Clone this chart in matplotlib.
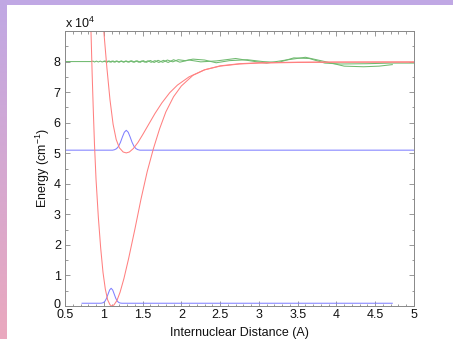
import numpy as np
import matplotlib
matplotlib.use("Agg")
import matplotlib.pyplot as plt
import matplotlib.transforms as mtransforms
from matplotlib.ticker import MultipleLocator, FuncFormatter, FixedLocator

plt.rcParams['font.family'] = ['Liberation Sans', 'DejaVu Sans']
plt.rcParams['mathtext.fontset'] = 'custom'
plt.rcParams['mathtext.rm'] = 'Liberation Sans'
plt.rcParams['mathtext.it'] = 'Liberation Sans'

# ---------------- data (r in Angstrom, E in cm^-1) ----------------
ground_r = [0.835, 0.85, 0.865, 0.88, 0.90, 0.93, 0.96, 0.99, 1.02, 1.05, 1.08, 1.10,
            1.13, 1.17, 1.21, 1.26, 1.32, 1.40, 1.48, 1.56, 1.64, 1.72, 1.80, 1.90,
            2.00, 2.15, 2.30, 2.50, 2.75, 3.00, 3.50, 4.00, 5.00]
ground_E = [90000, 76000, 64000, 53000, 41500, 29000, 19000, 11000, 5500, 2000, 400, 0,
            300, 1800, 4500, 9000, 15500, 25000, 35000, 44000, 51500, 58000, 63500, 68500,
            72000, 75500, 77300, 78500, 79200, 79500, 79700, 79800, 79800]

excited_r = [1.00, 1.04, 1.08, 1.12, 1.16, 1.20, 1.25, 1.29, 1.33, 1.38, 1.44, 1.50,
             1.58, 1.66, 1.75, 1.85, 1.95, 2.10, 2.30, 2.50, 2.75, 3.00, 3.50, 5.00]
excited_E = [90000, 78000, 67500, 59500, 54500, 51800, 50400, 50100, 50400, 51500, 53500, 56000,
             59500, 63000, 66500, 69800, 72300, 75000, 77300, 78600, 79300, 79600, 79800, 79900]

low_wf_r = [0.72, 0.955, 0.975, 0.995, 1.015, 1.035, 1.055, 1.075, 1.095, 1.115, 1.135,
            1.155, 1.175, 1.195, 1.215, 1.235, 4.72]
low_wf_E = [900, 900, 954, 1115, 1563, 2491, 3872, 5224, 5800, 5224, 3872,
            2491, 1563, 1115, 954, 900, 900]

up_wf_r = [0.50, 1.115, 1.14, 1.165, 1.19, 1.215, 1.24, 1.265, 1.29, 1.315, 1.34, 1.365,
           1.39, 1.415, 1.44, 1.465, 5.00]
up_wf_E = [51000, 51000, 51158, 51492, 52245, 53565, 55300, 56865, 57500, 56865, 55300, 53565,
           52245, 51492, 51158, 51000, 51000]

cont_a_r = [0.50, 0.84, 0.86, 0.88, 0.905, 0.93, 0.955, 0.98, 1.005, 1.03, 1.055, 1.08,
            1.105, 1.13, 1.16, 1.19, 1.22, 1.25, 1.28, 1.31, 1.345, 1.38, 1.415, 1.45,
            1.49, 1.53, 1.57, 1.61, 1.66, 1.71, 1.77, 1.83, 1.90, 1.98, 2.10, 2.25,
            2.45, 2.70, 2.95, 3.10, 3.35, 3.60, 3.85, 4.10, 4.35, 4.55, 4.72]
cont_a_E = [80000, 80000, 80150, 79850, 80150, 79850, 80150, 79850, 80150, 79850, 80150, 79850,
            80150, 79850, 80150, 79850, 80150, 79850, 80150, 79850, 80200, 79800, 80200, 79800,
            80200, 79800, 80250, 79750, 80300, 79700, 80400, 79700, 80600, 79800, 80500, 79900,
            80200, 81000, 80000, 79500, 80500, 81400, 80000, 78500, 78300, 78500, 79000]

cont_b_r = [1.00, 1.02, 1.045, 1.07, 1.095, 1.12, 1.145, 1.17, 1.20, 1.23, 1.26, 1.29,
            1.325, 1.36, 1.395, 1.43, 1.47, 1.51, 1.55, 1.60, 1.65, 1.70, 1.76, 1.82,
            1.89, 1.96, 2.05, 2.15, 2.30, 2.45, 2.62, 2.85, 3.05, 3.25, 3.45, 3.65,
            3.85, 4.05, 4.40, 4.70, 5.00]
cont_b_E = [80000, 80200, 79800, 80200, 79800, 80200, 79800, 80200, 79800, 80200, 79800, 80200,
            79800, 80250, 79800, 80250, 79750, 80300, 79750, 80350, 79700, 80400, 79750, 80500,
            79900, 80600, 80300, 80800, 80500, 79600, 80300, 80600, 80000, 79700, 81200, 81000,
            79500, 79200, 79300, 79500, 79500]

x_ticks = [0.5, 1, 1.5, 2, 2.5, 3, 3.5, 4, 4.5, 5]
y_ticks = [0, 10000, 20000, 30000, 40000, 50000, 60000, 70000, 80000]

# ---------------- figure ----------------
W, H = 453, 339
fig = plt.figure(figsize=(W / 100, H / 100), dpi=100)
fig.patch.set_facecolor('white')

# decorative border (top strip and left gradient strip)
top_ax = fig.add_axes([0, 1 - 5 / H, 1, 5 / H])
top_ax.set_facecolor('#C0A8E4')
top_ax.set_xticks([]); top_ax.set_yticks([])
for s in top_ax.spines.values():
    s.set_visible(False)
left_ax = fig.add_axes([0, 0, 7 / W, 1])
c_top = np.array([192, 168, 228]) / 255
c_bot = np.array([234, 168, 190]) / 255
t = np.linspace(0, 1, 200)[:, None]
grad = (c_top[None, :] * (1 - t) + c_bot[None, :] * t)[:, None, :]
left_ax.imshow(grad, aspect='auto', extent=[0, 1, 0, 1])
left_ax.set_xticks([]); left_ax.set_yticks([])
for s in left_ax.spines.values():
    s.set_visible(False)

ax = fig.add_axes([65 / W, 33 / H, 349 / W, 275 / H])
red = '#FF8080'
blue = '#8080FF'
green = '#70BA70'
lw = 0.75

ax.plot(cont_a_r, cont_a_E, color=green, lw=lw)
ax.plot(cont_b_r, cont_b_E, color=green, lw=lw)
ax.plot(low_wf_r, low_wf_E, color=blue, lw=lw)
ax.plot(up_wf_r, up_wf_E, color=blue, lw=lw)
ax.plot(ground_r, ground_E, color=red, lw=lw)
ax.plot(excited_r, excited_E, color=red, lw=lw)

ax.set_xlim(0.5, 5)
ax.set_ylim(0, 90000)
ax.xaxis.set_major_locator(FixedLocator(x_ticks))
ax.xaxis.set_minor_locator(MultipleLocator(0.1))
ax.yaxis.set_major_locator(FixedLocator(y_ticks))
ax.yaxis.set_minor_locator(MultipleLocator(5000))
ax.xaxis.set_major_formatter(FuncFormatter(lambda v, p: '%g' % v))
ax.yaxis.set_major_formatter(FuncFormatter(lambda v, p: '%g' % (v / 10000)))
ax.tick_params(which='both', direction='in', top=True, right=True,
               color='#888888', labelsize=9, labelcolor='#111111')
ax.tick_params(which='major', length=3.5, width=0.6)
ax.tick_params(axis='x', which='major', pad=2.5)
ax.tick_params(axis='y', which='major', pad=3)
ax.tick_params(which='minor', length=1.8, width=0.6)
for s in ax.spines.values():
    s.set_color('#888888')
    s.set_linewidth(0.7)
# nudge the "0" y label up slightly so it does not collide with "0.5"
t0 = ax.yaxis.get_major_ticks()[0].label1
t0.set_transform(t0.get_transform() + mtransforms.ScaledTranslation(0, 2.5 / 100, fig.dpi_scale_trans))

ax.set_xlabel('Internuclear Distance (A)', fontsize=9, labelpad=4, color='#111111')
ax.set_ylabel('Energy (cm$^{-1}$)', fontsize=9, color='#111111')
ax.yaxis.set_label_coords(-0.037, 0.5)
fig.text(65 / W, 1 - 28 / H, 'x 10$^{4}$', fontsize=9, ha='left', va='baseline', color='#111111')

fig.savefig('out.png', dpi=100)
